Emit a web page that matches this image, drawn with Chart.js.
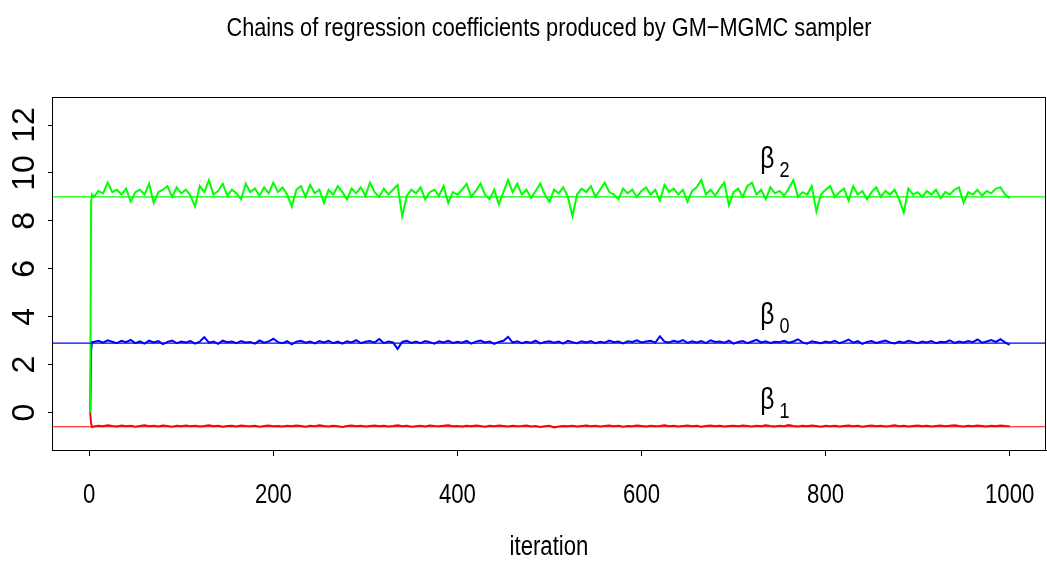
<!DOCTYPE html>
<html><head><meta charset="utf-8">
<script src="https://cdn.jsdelivr.net/npm/chart.js@4.4.1/dist/chart.umd.min.js"></script>
<style>html,body{margin:0;padding:0;background:#fff;} canvas{display:block;}</style>
</head><body>
<canvas id="c" width="1047" height="566"></canvas>
<script>
const titleText = 'Chains of regression coefficients produced by GM\u2212MGMC sampler';
const xAxisTitle = 'iteration';
const xTicks = [0, 200, 400, 600, 800, 1000];
const xTickLabels = ['0', '200', '400', '600', '800', '1000'];
const yTicks = [0, 2, 4, 6, 8, 10, 12];
const yTickLabels = ['0', '2', '4', '6', '8', '10', '12'];
const xAxisMin = -40.5, xAxisMax = 1039.5;
const yAxisMin = -1.56, yAxisMax = 13.17;

// iteration index of the stored chain draws
const iterations = [1, 2, 3].concat(Array.from({length: 200}, (_, i) => 5 * (i + 1)));

const beta2 = [0.0, 8.8, 9.1,
 9.0, 9.25, 9.15, 9.6, 9.2, 9.3, 9.1, 9.35, 8.8, 9.2,
 9.3, 9.1, 9.55, 8.75, 9.2, 9.3, 9.45, 9.0, 9.4, 9.15,
 9.3, 9.05, 8.6, 9.45, 9.2, 9.7, 9.1, 9.25, 9.55, 9.05,
 9.3, 9.15, 8.9, 9.55, 9.2, 9.35, 9.05, 9.4, 9.15, 9.6,
 9.2, 9.4, 9.1, 8.6, 9.3, 9.45, 9.0, 9.5, 9.15, 9.3,
 8.75, 9.3, 9.1, 9.45, 9.2, 8.9, 9.35, 9.15, 9.4, 9.05,
 9.6, 9.2, 9.0, 9.35, 9.1, 9.3, 9.5, 8.2, 9.05, 9.3,
 9.15, 9.4, 8.9, 9.2, 9.3, 9.05, 9.45, 8.75, 9.2, 9.1,
 9.3, 9.55, 9.0, 9.25, 9.55, 9.1, 8.9, 9.3, 8.7, 9.2,
 9.7, 9.2, 9.55, 9.1, 9.3, 8.95, 9.25, 9.55, 9.1, 8.8,
 9.3, 9.15, 9.4, 9.0, 8.2, 9.1, 9.35, 9.2, 9.45, 9.0,
 9.3, 9.6, 9.2, 9.1, 8.9, 9.35, 9.15, 9.3, 9.0, 9.25,
 9.4, 9.1, 9.3, 8.85, 9.5, 9.2, 9.35, 9.1, 9.3, 8.8,
 9.25, 9.4, 9.7, 9.1, 9.3, 9.05, 9.35, 9.6, 8.65, 9.2,
 9.35, 9.0, 9.45, 9.6, 9.1, 9.3, 8.9, 9.4, 9.15, 9.25,
 9.05, 9.35, 9.7, 9.0, 9.2, 9.1, 9.45, 8.4, 9.1, 9.3,
 9.45, 9.0, 9.2, 9.35, 8.85, 9.45, 9.1, 9.25, 8.9, 9.2,
 9.4, 9.0, 9.25, 9.1, 9.3, 8.9, 8.35, 9.35, 9.1, 9.2,
 9.0, 9.25, 9.1, 9.3, 8.95, 9.2, 9.1, 9.3, 9.4, 8.75,
 9.2, 9.1, 9.3, 9.05, 9.25, 9.15, 9.35, 9.4, 9.1, 8.95];

const beta0 = [0.0, 2.6, 2.95,
 2.95, 3.0, 2.92, 3.02, 2.96, 2.9, 3.0, 2.94, 3.03, 2.9,
 2.97, 2.88, 3.0, 2.93, 2.98, 2.86, 2.95, 3.01, 2.9, 2.97,
 2.93, 2.99, 2.88, 2.96, 3.15, 2.92, 2.97, 2.87, 3.0, 2.94,
 2.97, 2.9, 2.99, 2.93, 2.95, 2.88, 3.01, 2.92, 2.97, 3.08,
 2.94, 2.9, 2.98, 2.85, 2.96, 3.0, 2.92, 2.97, 2.89, 2.99,
 2.93, 3.0, 2.9, 2.96, 2.88, 2.98, 2.93, 3.02, 2.9, 2.96,
 2.99, 2.92, 3.07, 2.9, 2.97, 2.93, 2.66, 2.95, 3.0, 2.91,
 2.97, 2.9, 2.99, 2.94, 2.88, 2.98, 2.93, 3.0, 2.91, 2.96,
 2.92, 2.99, 2.88, 2.96, 3.01, 2.93, 2.97, 2.87, 2.95, 3.0,
 3.16, 2.93, 2.98, 2.9, 2.96, 2.92, 3.0, 2.89, 2.95, 2.98,
 2.92, 2.97, 2.88, 3.0, 2.94, 2.9, 2.98, 2.93, 2.99, 2.9,
 2.96, 2.92, 3.01, 2.94, 2.97, 2.89, 2.98, 2.95, 3.02, 2.93,
 2.97, 3.0, 2.92, 3.18, 2.96, 2.93, 3.0, 2.95, 3.03, 2.91,
 2.98, 2.93, 2.99, 2.9, 3.02, 2.95, 2.97, 2.92, 3.0, 2.88,
 2.95, 2.99, 2.9, 2.97, 3.04, 2.93, 2.98, 2.91, 2.96, 2.94,
 3.0, 2.92, 2.97, 3.06, 2.93, 2.88, 2.98, 2.94, 2.9, 2.97,
 2.93, 3.0, 2.9, 2.96, 3.05, 2.92, 2.98, 2.87, 2.95, 2.99,
 2.91, 2.96, 3.01, 2.93, 2.89, 2.97, 2.92, 3.0, 2.95, 2.9,
 2.97, 2.93, 2.99, 2.9, 2.96, 2.94, 3.02, 2.91, 2.97, 2.93,
 2.99, 2.94, 3.05, 2.92, 2.97, 3.03, 2.95, 3.06, 2.93, 2.83];

const beta1 = [0.0, -0.45, -0.6,
 -0.58, -0.55, -0.57, -0.53, -0.56, -0.58, -0.54, -0.57, -0.55, -0.59,
 -0.56, -0.53, -0.57, -0.55, -0.58, -0.54, -0.56, -0.59, -0.55, -0.57,
 -0.54, -0.57, -0.55, -0.58, -0.56, -0.53, -0.57, -0.55, -0.59, -0.56,
 -0.55, -0.58, -0.54, -0.56, -0.57, -0.55, -0.59, -0.56, -0.54, -0.57,
 -0.56, -0.58, -0.55, -0.57, -0.54, -0.56, -0.59, -0.55, -0.57, -0.53,
 -0.56, -0.58, -0.55, -0.57, -0.60, -0.56, -0.54, -0.57, -0.55, -0.58,
 -0.56, -0.54, -0.57, -0.55, -0.58, -0.56, -0.53, -0.57, -0.55, -0.59,
 -0.57, -0.55, -0.58, -0.54, -0.56, -0.57, -0.55, -0.53, -0.57, -0.56,
 -0.58, -0.55, -0.57, -0.54, -0.56, -0.59, -0.55, -0.57, -0.54, -0.56,
 -0.58, -0.55, -0.57, -0.56, -0.54, -0.58, -0.56, -0.60, -0.57, -0.55,
 -0.62, -0.58, -0.56, -0.57, -0.55, -0.58, -0.56, -0.54, -0.57, -0.55,
 -0.58, -0.56, -0.54, -0.57, -0.55, -0.59, -0.56, -0.57, -0.54, -0.56,
 -0.58, -0.55, -0.57, -0.56, -0.53, -0.57, -0.55, -0.58, -0.56, -0.54,
 -0.57, -0.55, -0.59, -0.56, -0.54, -0.57, -0.55, -0.58, -0.56, -0.55,
 -0.57, -0.54, -0.56, -0.58, -0.55, -0.57, -0.53, -0.56, -0.58, -0.55,
 -0.57, -0.52, -0.56, -0.58, -0.55, -0.57, -0.54, -0.56, -0.59, -0.55,
 -0.57, -0.55, -0.58, -0.56, -0.54, -0.57, -0.55, -0.59, -0.56, -0.54,
 -0.57, -0.55, -0.58, -0.56, -0.53, -0.57, -0.55, -0.58, -0.56, -0.54,
 -0.57, -0.55, -0.58, -0.56, -0.54, -0.57, -0.55, -0.53, -0.56, -0.58,
 -0.55, -0.57, -0.54, -0.56, -0.58, -0.55, -0.57, -0.54, -0.56, -0.57];

// reference (true) values drawn as horizontal lines
const trueBeta2 = 9.0, trueBeta0 = 2.9, trueBeta1 = -0.59;

// annotation labels
const labelSubs = ['2', '0', '1'];
const labelIter = [745, 745, 745];
const labelValue = [10.2, 3.71, 0.15];

// Narrow text: Liberation Sans drawn with a horizontal squeeze (like Helvetica Narrow)
const NARROW_SCALE = 0.82;
const NARROW = "'Liberation Sans', Arimo, sans-serif";
const REG = "'Liberation Sans', Arial, sans-serif";

const canvas = document.getElementById('c');
const ctx2d = canvas.getContext('2d');
(function installNarrow(ctx) {
  const orig = ctx.fillText;
  ctx.fillText = function (text, x, y, maxWidth) {
    if (this.font.indexOf('Arimo') !== -1) {
      this.save();
      this.translate(x, y);
      this.scale(NARROW_SCALE, 1);
      if (maxWidth !== undefined) orig.call(this, text, 0, 0, maxWidth / NARROW_SCALE);
      else orig.call(this, text, 0, 0);
      this.restore();
    } else {
      if (maxWidth !== undefined) orig.call(this, text, x, y, maxWidth);
      else orig.call(this, text, x, y);
    }
  };
})(ctx2d);

const pts = arr => iterations.map((it, i) => ({x: it, y: arr[i]}));
const hline = v => [{x: xAxisMin, y: v}, {x: xAxisMax, y: v}];

const boxPlugin = {
  id: 'box',
  afterDraw(chart) {
    const {ctx, chartArea: a} = chart;
    ctx.save();
    ctx.strokeStyle = '#000'; ctx.lineWidth = 1;
    ctx.strokeRect(Math.round(a.left) + 0.5, Math.round(a.top) + 0.5, Math.round(a.right - a.left) - 1, Math.round(a.bottom - a.top));
    ctx.restore();
  }
};
const betaLabels = {
  id: 'betaLabels',
  afterDatasetsDraw(chart) {
    const {ctx, scales: {x, y}} = chart;
    ctx.save();
    ctx.fillStyle = '#000';
    ctx.textBaseline = 'alphabetic';
    ctx.textAlign = 'left';
    const big = '30px ' + NARROW, small = '22px ' + NARROW;
    for (let i = 0; i < labelSubs.length; i++) {
      const px = x.getPixelForValue(labelIter[i]);
      const py = y.getPixelForValue(labelValue[i]);
      ctx.font = big; const wb = ctx.measureText('\u03b2').width * NARROW_SCALE;
      ctx.font = small; const ws = ctx.measureText(labelSubs[i]).width * NARROW_SCALE;
      const gap = 5;
      const left = px - (wb + gap + ws) / 2;
      ctx.font = big; ctx.fillText('\u03b2', left, py);
      ctx.font = small; ctx.fillText(labelSubs[i], left + wb + gap, py + 9);
    }
    ctx.restore();
  }
};

new Chart(ctx2d, {
  type: 'line',
  data: {
    datasets: [
      {label: 'beta2 true', data: hline(trueBeta2), borderColor: '#00ff00', borderWidth: 1.2, order: 0},
      {label: 'beta0 true', data: hline(trueBeta0), borderColor: '#0000ff', borderWidth: 1.2, order: 0},
      {label: 'beta1 true', data: hline(trueBeta1), borderColor: '#ff0000', borderWidth: 1.2, order: 0},
      {label: 'beta2', data: pts(beta2), borderColor: '#00ff00', borderWidth: 2, order: 1},
      {label: 'beta0', data: pts(beta0), borderColor: '#0000ff', borderWidth: 2, order: 2},
      {label: 'beta1', data: pts(beta1), borderColor: '#ff0000', borderWidth: 2, order: 3}
    ]
  },
  options: {
    responsive: false,
    animation: false,
    parsing: false,
    elements: {point: {radius: 0}, line: {tension: 0, fill: false}},
    layout: {padding: {left: 0, right: 1, top: 0, bottom: 0}},
    plugins: {
      legend: {display: false},
      tooltip: {enabled: false},
      title: {
        display: true, text: titleText, fullSize: false, color: '#000',
        font: {family: NARROW, size: 26.5, weight: 'normal', lineHeight: 1.2},
        padding: {top: 13, bottom: 52.2}
      }
    },
    scales: {
      x: {
        type: 'linear', min: xAxisMin, max: xAxisMax,
        afterBuildTicks: s => { s.ticks = xTicks.map(v => ({value: v})); },
        afterFit: s => { s.height = 116; s.paddingLeft = 0; s.paddingRight = 0; },
        grid: {drawOnChartArea: false, drawTicks: true, tickLength: 6, color: '#000'},
        border: {display: true, color: '#000', width: 1},
        ticks: {color: '#000', padding: 23, maxRotation: 0, autoSkip: false,
                callback: (v) => xTickLabels[xTicks.indexOf(v)],
                font: {family: NARROW, size: 27, lineHeight: 1.2}},
        title: {display: true, text: xAxisTitle, color: '#000', padding: {top: 0, bottom: 2},
                font: {family: NARROW, size: 27, lineHeight: 1.2}}
      },
      y: {
        type: 'linear', min: yAxisMin, max: yAxisMax,
        afterBuildTicks: s => { s.ticks = yTicks.map(v => ({value: v})); },
        afterFit: s => { s.width = 52; s.paddingTop = 0; s.paddingBottom = 0; },
        grid: {drawOnChartArea: false, drawTicks: true, tickLength: 4, color: '#000'},
        border: {display: true, color: '#000', width: 1},
        ticks: {color: '#000', padding: 5, minRotation: 90, maxRotation: 90, crossAlign: 'center',
                callback: (v) => yTickLabels[yTicks.indexOf(v)],
                font: {family: REG, size: 32, lineHeight: 1.2}}
      }
    }
  },
  plugins: [boxPlugin, betaLabels]
});
</script>
</body></html>
